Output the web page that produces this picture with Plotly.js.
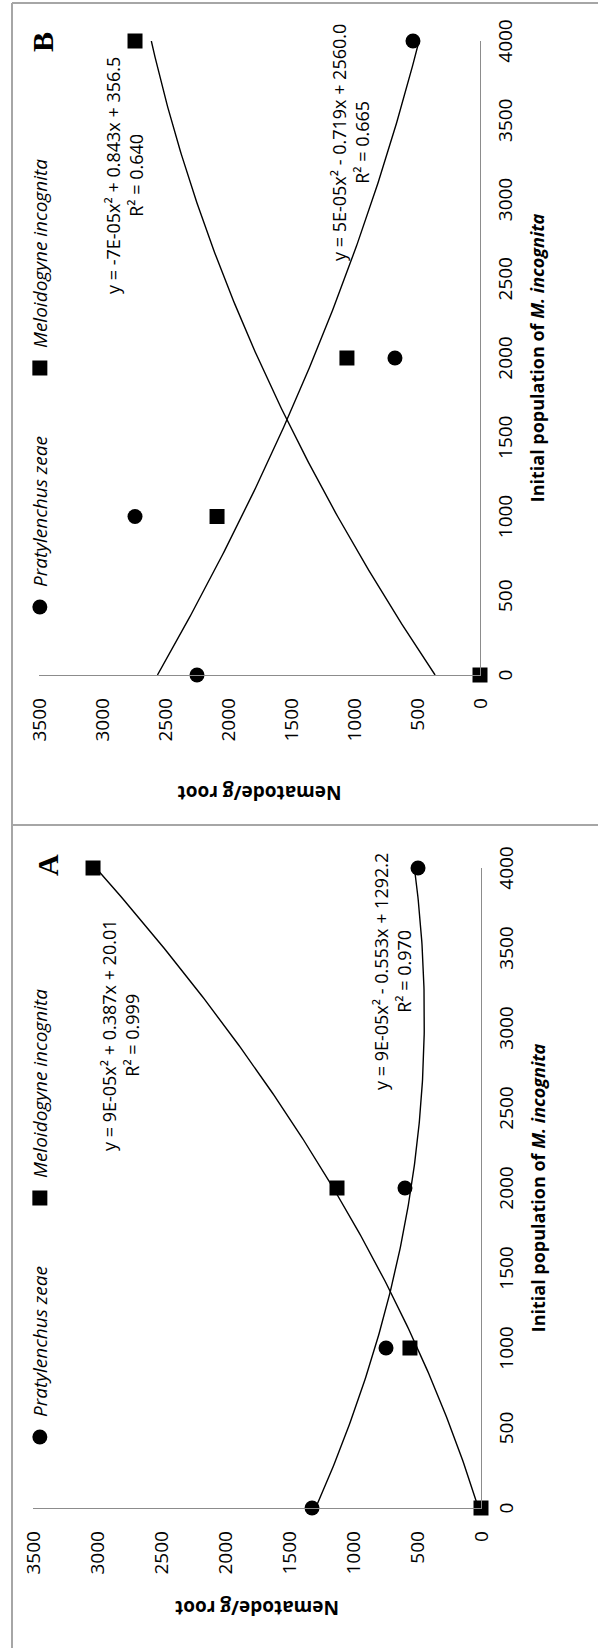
<!DOCTYPE html>
<html>
<head>
<meta charset="utf-8">
<script src="https://cdn.plot.ly/plotly-3.0.1.min.js"></script>
<style>
html, body { margin:0; padding:0; width:598px; height:1648px; overflow:hidden; background:#ffffff; }
#chart { position:absolute; left:0; top:0; width:1648px; height:598px;
         transform-origin:0 0; transform:translate(0px,1648px) rotate(-90deg); }
</style>
</head>
<body>
<div id="chart"></div>
<script>
// ---------------- data ----------------
const initialPopulation = [0, 1000, 2000, 4000];

const panelA_pratylenchus = [1320, 742, 594, 492];
const panelA_meloidogyne  = [0, 555, 1125, 3031];

const panelB_pratylenchus = [2246, 2738, 675, 532];
const panelB_meloidogyne  = [0, 2087, 1056, 2738];

const popTicks = [0, 500, 1000, 1500, 2000, 2500, 3000, 3500, 4000];
const nemTicks = [0, 500, 1000, 1500, 2000, 2500, 3000, 3500];

// polynomial trendline coefficients [a, b, c] : y = a*x^2 + b*x + c
const trendA_pratylenchus = [9e-5, -0.553, 1292.2];
const trendA_meloidogyne  = [9e-5, 0.387, 20.01];
const trendB_pratylenchus = [5e-5, -0.719, 2560.0];
const trendB_meloidogyne  = [-7e-5, 0.843, 356.5];

const eqA_pratylenchus = ['y = 9E-05x² - 0.553x + 1292.2', 'R² = 0.970'];
const eqA_meloidogyne  = ['y = 9E-05x² + 0.387x + 20.01', 'R² = 0.999'];
const eqB_pratylenchus = ['y = 5E-05x² - 0.719x + 2560.0', 'R² = 0.665'];
const eqB_meloidogyne  = ['y = -7E-05x² + 0.843x + 356.5', 'R² = 0.640'];

const seriesNames = ['Pratylenchus zeae', 'Meloidogyne incognita'];
const panelLetters = ['A', 'B'];
const xTitle = 'Initial population of <i>M. incognita</i>';
const yTitle = 'Nematode/g root';

// ---------------- helpers ----------------
const W = 1648, H = 598;
const fx = u => u / W;
const fy = v => 1 - v / H;
const FONT = 'Open Sans, Liberation Sans, sans-serif';

function trendCurve(coef) {
  const xs = [], ys = [];
  for (let x = 0; x <= 4000; x += 20) {
    xs.push(x);
    ys.push(coef[0] * x * x + coef[1] * x + coef[2]);
  }
  return {xs, ys};
}

function markerTrace(y, name, symbol, xa, ya, legend) {
  return {
    type: 'scatter', mode: 'markers', x: initialPopulation, y: y, name: name,
    xaxis: xa, yaxis: ya, legend: legend, cliponaxis: false,
    marker: {symbol: symbol, size: 15, color: '#000000'}
  };
}
function lineTrace(coef, xa, ya) {
  const c = trendCurve(coef);
  return {
    type: 'scatter', mode: 'lines', x: c.xs, y: c.ys, showlegend: false,
    xaxis: xa, yaxis: ya, cliponaxis: false, hoverinfo: 'skip',
    line: {color: '#000000', width: 1.4}
  };
}

const traces = [
  lineTrace(trendA_pratylenchus, 'x', 'y'),
  lineTrace(trendA_meloidogyne, 'x', 'y'),
  markerTrace(panelA_pratylenchus, seriesNames[0], 'circle', 'x', 'y', 'legend'),
  markerTrace(panelA_meloidogyne, seriesNames[1], 'square', 'x', 'y', 'legend'),
  lineTrace(trendB_pratylenchus, 'x2', 'y2'),
  lineTrace(trendB_meloidogyne, 'x2', 'y2'),
  markerTrace(panelB_pratylenchus, seriesNames[0], 'circle', 'x2', 'y2', 'legend2'),
  markerTrace(panelB_meloidogyne, seriesNames[1], 'square', 'x2', 'y2', 'legend2')
];

const axisCommon = {
  showline: true, linecolor: '#8c8c8c', linewidth: 1.3,
  showgrid: false, zeroline: false, ticks: '',
  tickfont: {family: FONT, size: 19, color: '#000000'}
};
function xAxis(domain, anchor) {
  return Object.assign({}, axisCommon, {
    domain: domain, anchor: anchor, range: [0, 4000], tickvals: popTicks,
    ticklabelstandoff: 8,
    title: {text: xTitle, standoff: 14, font: {family: FONT, size: 18, weight: 700, color: '#000000'}}
  });
}
function yAxis(domain, anchor, standoff) {
  return Object.assign({}, axisCommon, {
    domain: domain, anchor: anchor, range: [0, 3500], tickvals: nemTicks,
    ticklabelstandoff: 18,
    title: {text: yTitle, standoff: standoff, font: {family: FONT, size: 19, weight: 700, color: '#000000'}}
  });
}

function eqAnn(lines, u, v) {
  return {xref: 'paper', yref: 'paper', x: fx(u), y: fy(v), xanchor: 'center', yanchor: 'middle',
          text: lines.join('<br>'), showarrow: false, align: 'center',
          font: {family: FONT, size: 18, color: '#000000'}};
}
function letterAnn(t, u, v) {
  return {xref: 'paper', yref: 'paper', x: fx(u), y: fy(v), xanchor: 'center', yanchor: 'middle',
          text: t, showarrow: false,
          font: {family: 'Liberation Serif, DejaVu Serif, serif', size: 30, weight: 700, color: '#000000'}};
}
function legendCfg(u) {
  return {orientation: 'h', x: fx(u), xanchor: 'left', y: fy(40), yanchor: 'middle',
          bgcolor: 'rgba(0,0,0,0)', itemwidth: 30, entrywidth: 194, traceorder: 'normal',
          font: {family: FONT, size: 19, style: 'italic', color: '#000000'}};
}

const frameColor = '#a6a6a6';
const layout = {
  width: W, height: H, autosize: false,
  margin: {l: 0, r: 0, t: 0, b: 0, pad: 0},
  paper_bgcolor: '#ffffff', plot_bgcolor: '#ffffff',
  showlegend: true,
  xaxis: xAxis([fx(140), fx(780)], 'y'),
  yaxis: yAxis([fy(481), fy(33)], 'x', 20),
  xaxis2: xAxis([fx(973), fx(1607)], 'y2'),
  yaxis2: yAxis([fy(480), fy(39)], 'x2', 38),
  legend: legendCfg(191),
  legend2: legendCfg(1021),
  annotations: [
    eqAnn(eqA_meloidogyne, 613, 121),
    eqAnn(eqA_pratylenchus, 676, 392),
    eqAnn(eqB_meloidogyne, 1472, 125),
    eqAnn(eqB_pratylenchus, 1505, 350),
    letterAnn(panelLetters[0], 783, 47),
    letterAnn(panelLetters[1], 1606, 43)
  ],
  shapes: [
    {type: 'line', xref: 'paper', yref: 'paper', x0: 0, x1: fx(1645), y0: fy(12), y1: fy(12), line: {color: frameColor, width: 2}},
    {type: 'line', xref: 'paper', yref: 'paper', x0: fx(1645), x1: fx(1645), y0: fy(12), y1: 0, line: {color: frameColor, width: 2}},
    {type: 'line', xref: 'paper', yref: 'paper', x0: fx(823), x1: fx(823), y0: fy(12), y1: 0, line: {color: frameColor, width: 2}}
  ]
};

Plotly.newPlot('chart', traces, layout, {staticPlot: true, displayModeBar: false});
</script>
</body>
</html>
